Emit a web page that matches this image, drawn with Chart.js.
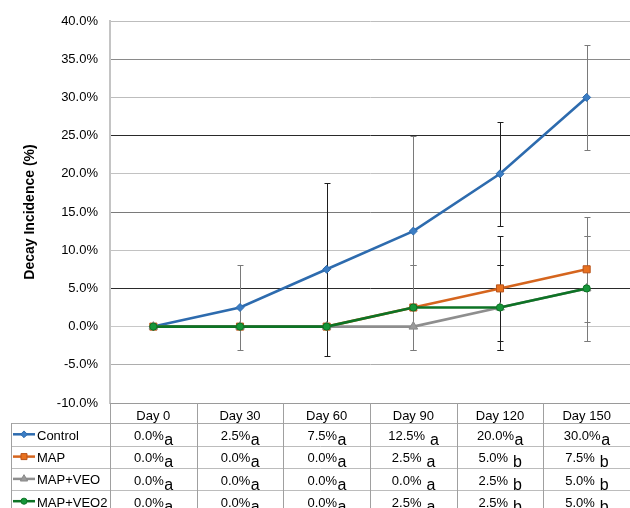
<!DOCTYPE html>
<html><head><meta charset="utf-8">
<script src="https://cdn.jsdelivr.net/npm/chart.js@4.4.0/dist/chart.umd.min.js"></script>
<style>html,body{margin:0;padding:0;background:#fff;overflow:hidden}canvas{display:block}</style>
</head><body>
<canvas id="c" width="630" height="508"></canvas>
<script>
const categories = ["Day 0","Day 30","Day 60","Day 90","Day 120","Day 150"];
const seriesNames = ["Control","MAP","MAP+VEO","MAP+VEO2"];
const controlValues = [0, 2.5, 7.5, 12.5, 20, 30];
const mapValues = [0, 0, 0, 2.5, 5, 7.5];
const mapVeoValues = [0, 0, 0, 0, 2.5, 5];
const mapVeo2Values = [0, 0, 0, 2.5, 2.5, 5];
const controlErrors = [0, 5.6, 11.3, 12.5, 6.8, 6.9];
const mapErrors = [0, 0, 0, 5.6, 6.9, 6.9];
const mapVeoErrors = [0, 0, 0, 0, 5.6, 6.9];
const mapVeo2Errors = [0, 0, 0, 5.6, 5.6, 6.9];
const controlLetters = ["a","a","a"," a","a","a"];
const mapLetters = ["a","a","a"," a"," b"," b"];
const mapVeoLetters = ["a","a","a"," a"," b"," b"];
const mapVeo2Letters = ["a","a","a"," a"," b"," b"];
const yMin = -10, yMax = 40, yStep = 5;
const yTitle = "Decay Incidence (%)";

const allValues = [controlValues, mapValues, mapVeoValues, mapVeo2Values];
const allErrors = [controlErrors, mapErrors, mapVeoErrors, mapVeo2Errors];
const allLetters = [controlLetters, mapLetters, mapVeoLetters, mapVeo2Letters];

const FONT = '"Liberation Sans", Arial, sans-serif';
const styles = [
  {line:'#2D6BAE', fill:'#3B7DC4', border:'#2D6BAE', shape:'rectRot', r:4},
  {line:'#D5651E', fill:'#E8711F', border:'#B9531A', shape:'rect', r:5},
  {line:'#8E8E8E', fill:'#9A9A9A', border:'#8A8A8A', shape:'triangle', r:5},
  {line:'#0D7325', fill:'#16963A', border:'#0D7325', shape:'circle', r:3.6}
];

const gridColors = {"40":'#bdbdbd',"35":'#8a8a8a',"30":'#bdbdbd',"25":'#2a2a2a',"20":'#c2c2c2',"15":'#7a7a7a',"10":'#c2c2c2',"5":'#2a2a2a',"0":'#c8c8c8',"-5":'#adadad',"-10":'#9a9a9a'};

function drawMarker(ctx, s, x, y){
  const r = s.r;
  ctx.beginPath();
  if (s.shape === 'rect') { const h = r*Math.SQRT1_2; ctx.rect(x-h, y-h, 2*h, 2*h); }
  else if (s.shape === 'rectRot') { ctx.moveTo(x, y-r); ctx.lineTo(x+r, y); ctx.lineTo(x, y+r); ctx.lineTo(x-r, y); ctx.closePath(); }
  else if (s.shape === 'triangle') { ctx.moveTo(x, y-r); ctx.lineTo(x+r*0.866, y+r*0.5); ctx.lineTo(x-r*0.866, y+r*0.5); ctx.closePath(); }
  else { ctx.arc(x, y, r, 0, Math.PI*2); }
  ctx.fillStyle = s.fill; ctx.fill();
  ctx.lineWidth = 1; ctx.strokeStyle = s.border; ctx.stroke();
}

const errorBarPlugin = {
  id: 'errorBars',
  beforeDatasetsDraw(chart){
    const ctx = chart.ctx, xs = chart.scales.x, ys = chart.scales.y;
    ctx.save();
    ctx.lineWidth = 1;
    allErrors.forEach((errs, si) => {
      errs.forEach((e, i) => {
        if (!e) return;
        const v = allValues[si][i];
        const x = Math.round(xs.getPixelForValue(i)) + 0.5;
        const yt = Math.round(ys.getPixelForValue(v + e)) + 0.5;
        const yb = Math.round(ys.getPixelForValue(v - e)) + 0.5;
        ctx.strokeStyle = (i % 2 === 0) ? '#1e1e1e' : '#7a7a7a';
        ctx.beginPath();
        ctx.moveTo(x, yt); ctx.lineTo(x, yb);
        ctx.moveTo(x-3, yt); ctx.lineTo(x+3, yt);
        ctx.moveTo(x-3, yb); ctx.lineTo(x+3, yb);
        ctx.stroke();
      });
    });
    ctx.restore();
  }
};

const tablePlugin = {
  id: 'dataTable',
  afterDraw(chart){
    const ctx = chart.ctx, xs = chart.scales.x, area = chart.chartArea;
    const colW = xs.getPixelForValue(1) - xs.getPixelForValue(0);
    const top = area.bottom;
    const headerH = 20.3, rowH = 22.3;
    const legLeft = 11, right = chart.width;
    const H = chart.height;
    ctx.save();
    ctx.lineWidth = 1;
    for (let r = 0; r < 4; r++) {
      const y = Math.round(top + headerH + r*rowH) + 0.5;
      ctx.strokeStyle = r === 0 ? '#a8a8a8' : '#bcbcbc';
      ctx.beginPath(); ctx.moveTo(legLeft, y); ctx.lineTo(right, y); ctx.stroke();
    }
    ctx.strokeStyle = '#a0a0a0';
    for (let i = 0; i <= categories.length; i++) {
      const bx = Math.round(xs.getPixelForValue(i) - colW/2) + 0.5;
      ctx.beginPath(); ctx.moveTo(bx, top); ctx.lineTo(bx, H); ctx.stroke();
    }
    const lx = legLeft + 0.5;
    ctx.beginPath(); ctx.moveTo(lx, Math.round(top+headerH)); ctx.lineTo(lx, H); ctx.stroke();
    ctx.fillStyle = '#000';
    ctx.textBaseline = 'alphabetic';
    ctx.font = '13px ' + FONT;
    ctx.textAlign = 'center';
    categories.forEach((c, i) => {
      ctx.fillText(c, xs.getPixelForValue(i), top + 16.5);
    });
    seriesNames.forEach((name, si) => {
      const rt = top + headerH + si*rowH;
      const cy = rt + 11;
      const s = styles[si];
      ctx.strokeStyle = s.line; ctx.lineWidth = 2.5;
      ctx.beginPath(); ctx.moveTo(13, cy); ctx.lineTo(35, cy); ctx.stroke();
      const ms = Object.assign({}, s, {r: s.r*0.85});
      drawMarker(ctx, ms, 24, cy);
      ctx.fillStyle = '#000';
      ctx.font = '13px ' + FONT;
      ctx.textAlign = 'left';
      ctx.fillText(name, 37, rt + 16.5);
      allValues[si].forEach((v, i) => {
        const t = v.toFixed(1) + '%';
        const l = allLetters[si][i];
        ctx.font = '13px ' + FONT;
        const w1 = ctx.measureText(t).width;
        ctx.font = '16px ' + FONT;
        const w2 = ctx.measureText(l).width;
        const x0 = xs.getPixelForValue(i) - (w1 + w2)/2;
        ctx.textAlign = 'left';
        ctx.font = '13px ' + FONT;
        ctx.fillText(t, x0, rt + 16.8);
        ctx.font = '16px ' + FONT;
        ctx.fillText(l, x0 + w1 + 0.5, rt + 21.6);
      });
    });
    ctx.restore();
  }
};

const datasets = seriesNames.map((n, i) => ({
  label: n,
  data: allValues[i],
  borderColor: styles[i].line,
  backgroundColor: styles[i].fill,
  pointBackgroundColor: styles[i].fill,
  pointBorderColor: styles[i].border,
  pointBorderWidth: 1,
  pointStyle: styles[i].shape,
  pointRadius: styles[i].r,
  borderWidth: 2.6,
  tension: 0,
  fill: false,
  clip: false,
  order: seriesNames.length - i
}));

new Chart(document.getElementById('c'), {
  type: 'line',
  data: { labels: categories, datasets },
  plugins: [errorBarPlugin, tablePlugin],
  options: {
    responsive: false,
    animation: false,
    events: [],
    layout: { autoPadding: false, padding: { top: 21, bottom: 105, left: 0, right: 0 } },
    plugins: { legend: { display: false }, tooltip: { enabled: false } },
    scales: {
      x: { type: 'category', offset: true, display: false },
      y: {
        min: yMin, max: yMax,
        afterFit(scale){ scale.width = 110; },
        ticks: {
          stepSize: yStep,
          padding: 12,
          color: '#000',
          font: { family: FONT, size: 13 },
          callback: v => v.toFixed(1) + '%'
        },
        grid: {
          drawTicks: false,
          lineWidth: 1,
          color: ctx => gridColors[String(ctx.tick ? ctx.tick.value : 0)] || '#c0c0c0'
        },
        border: { display: true, color: '#c4c4c4', width: 2 },
        title: {
          display: true, text: yTitle, color: '#000',
          font: { family: FONT, size: 14, weight: 'bold' },
          padding: { top: 22, bottom: 0 }
        }
      }
    }
  }
});
</script>
</body></html>
